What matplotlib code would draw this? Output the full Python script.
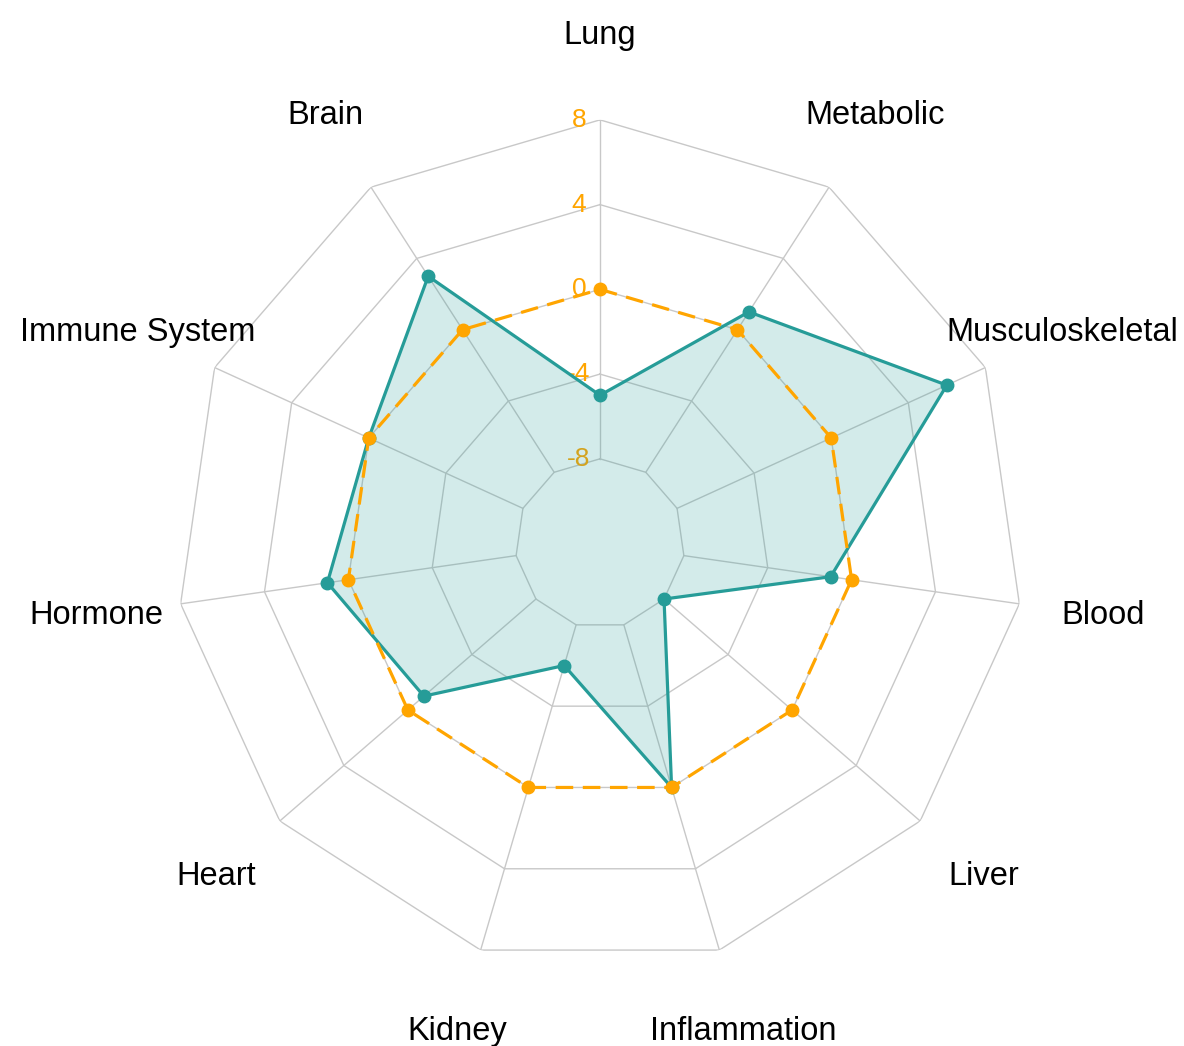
import matplotlib
matplotlib.use("Agg")
import matplotlib.pyplot as plt
import numpy as np

plt.rcParams['font.family'] = ['Liberation Sans', 'DejaVu Sans']

# Data (clockwise from top)
categories = ['Lung', 'Metabolic', 'Musculoskeletal', 'Blood', 'Liver', 'Inflammation',
              'Kidney', 'Heart', 'Hormone', 'Immune System', 'Brain']
scores = [-5, 1, 6, -1, -8, 0, -6, -1, 1, 0, 3]
reference = [0, 0, 0, 0, 0, 0, 0, 0, 0, 0, 0]
ring_levels = [-8, -4, 0, 4, 8]
r_min, r_max = -12, 8

teal = '#269C98'
orange = '#FFA500'
grid_col = '#C8C8C8'

n = len(categories)
theta = np.linspace(0, 2 * np.pi, n, endpoint=False)
theta_closed = np.append(theta, theta[0])

fig = plt.figure(figsize=(11.84, 10.46), dpi=100)
ax = fig.add_axes([0.1489, 0.0753, 0.7157, 0.8101], projection='polar')
ax.set_theta_zero_location('N')
ax.set_theta_direction(-1)
ax.set_ylim(r_min, r_max)
ax.grid(False)
ax.set_xticks([])
ax.set_yticks([])
ax.spines['polar'].set_visible(False)

# polygon grid
for lvl in ring_levels:
    ax.plot(theta_closed, [lvl] * (n + 1), color=grid_col, lw=1.0, zorder=1)
for t in theta:
    ax.plot([t, t], [ring_levels[0], ring_levels[-1]], color=grid_col, lw=1.0, zorder=1)

# axis value labels along the Lung spoke
for lvl in ring_levels:
    ax.annotate(str(lvl), xy=(0, lvl), xytext=(-21, 0), textcoords='offset pixels',
                ha='center', va='center', fontsize=19, color=orange, zorder=2)

# category labels
for t, lab in zip(theta, categories):
    ax.text(t, 12.0, lab, ha='center', va='center', fontsize=23.5, color='black',
            clip_on=False)

# score polygon
s_closed = scores + scores[:1]
ax.fill(theta_closed, s_closed, color=teal, alpha=0.2, lw=0, zorder=3)
ax.plot(theta_closed, s_closed, color=teal, lw=2.3, zorder=4)
ax.plot(theta, scores, 'o', color=teal, ms=9, zorder=5)

# reference line at zero
ref_closed = reference + reference[:1]
ax.plot(theta_closed, ref_closed, color=orange, lw=2.3, linestyle=(0, (5.5, 3)), zorder=6)
ax.plot(theta, reference, 'o', color=orange, ms=9, zorder=7)

fig.savefig('out.png', dpi=100, facecolor='white')
